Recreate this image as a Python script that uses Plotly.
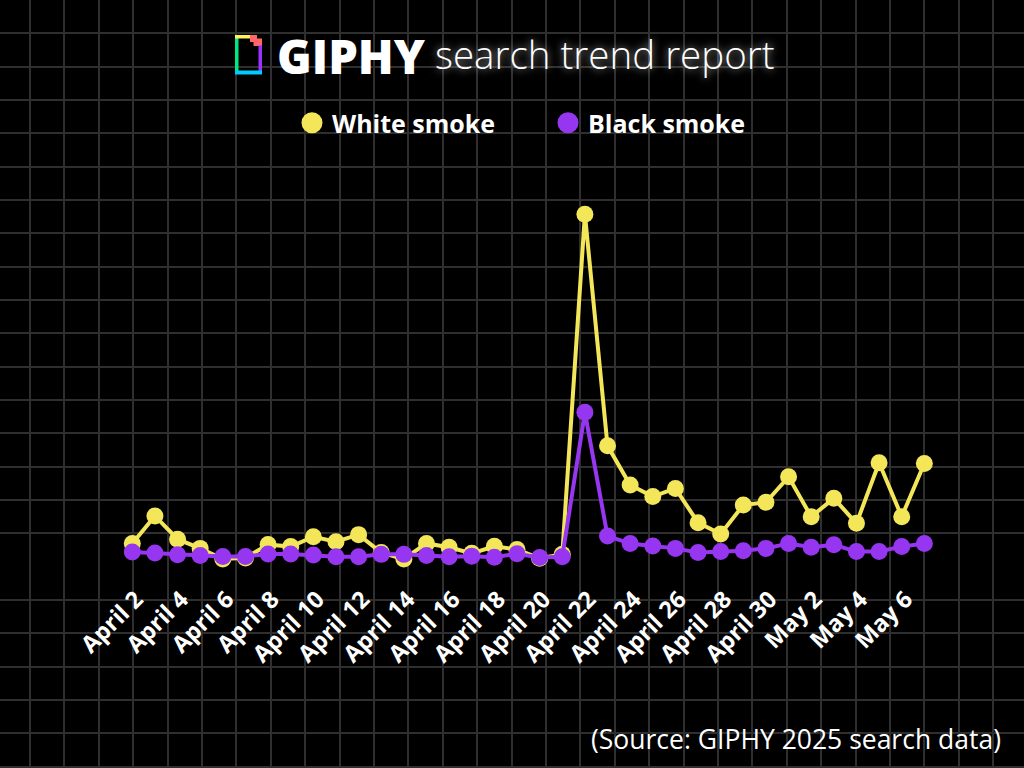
import pandas as pd
import plotly.graph_objects as go

# ---------------- data ----------------
dates = pd.date_range("2025-04-02", "2025-05-07", freq="D").strftime("%Y-%m-%d").tolist()
white_smoke = [6.6, 14.4, 7.8, 5.2, 2.2, 2.5, 6.3, 5.7, 8.5, 7.1, 9.1, 4.0, 2.2, 6.6, 5.5, 3.8, 5.8, 4.9,
               2.4, 3.5, 100, 34.3, 23.2, 19.9, 22.2, 12.5, 9.3, 17.5, 18.3, 25.5, 14.2, 19.4, 12.3, 29.5,
               14.2, 29.3]
black_smoke = [4.2, 3.9, 3.4, 3.2, 2.9, 2.9, 3.6, 3.6, 3.3, 2.8, 2.8, 3.5, 3.5, 3.2, 2.8, 3.0, 2.7, 3.7,
               2.6, 2.8, 43.8, 8.7, 6.6, 5.9, 5.2, 4.0, 4.3, 4.5, 5.2, 6.6, 5.5, 6.2, 4.3, 4.3, 5.7, 6.6]
tick_dates = dates[::2]
series_names = ["White smoke", "Black smoke"]
title_brand = "GIPHY"
title_rest = "search trend report"
source_text = "(Source: GIPHY 2025 search data)"

# ---------------- styling ----------------
W, H = 1024, 768
YELLOW = "#F3E659"
PURPLE = "#9636F0"
GRID = "#2f2f2f"
FONT = "Open Sans"

def px(x):
    return x / W

def py(y):
    return 1 - y / H

# axis scale (pixels)
X0_PX, PX_PER_DAY = 132.3, 22.63
Y0_PX, PX_PER_UNIT = 566.7, 3.524
t0 = pd.Timestamp(dates[0])
x_range = [t0 - pd.Timedelta(days=X0_PX / PX_PER_DAY), t0 + pd.Timedelta(days=(W - X0_PX) / PX_PER_DAY)]
y_range = [-(H - Y0_PX) / PX_PER_UNIT, Y0_PX / PX_PER_UNIT]
grid_dx_ms = 34.4 / PX_PER_DAY * 86400000
grid_x0 = t0 - pd.Timedelta(days=(X0_PX + 4.4) / PX_PER_DAY)

fig = go.Figure()
for name, vals, col in [(series_names[0], white_smoke, YELLOW), (series_names[1], black_smoke, PURPLE)]:
    fig.add_trace(go.Scatter(x=dates, y=vals, mode="lines+markers", name=name,
                             line=dict(color=col, width=4), marker=dict(color=col, size=17),
                             showlegend=False, cliponaxis=False))
for name, col in [(series_names[0], YELLOW), (series_names[1], PURPLE)]:
    fig.add_trace(go.Scatter(x=[None], y=[None], mode="markers", name=name,
                             marker=dict(color=col, size=22, line=dict(color=col, width=5)),
                             showlegend=True))

fig.update_layout(
    width=W, height=H,
    margin=dict(l=0, r=0, t=0, b=0),
    paper_bgcolor="#000000", plot_bgcolor="#000000",
    font=dict(family=FONT, color="white"),
    legend=dict(orientation="h", x=px(292), xanchor="left", y=py(123), yanchor="middle",
                font=dict(size=25, color="white", family=FONT, weight=700),
                entrywidth=211, entrywidthmode="pixels", bgcolor="rgba(0,0,0,0)"),
    xaxis=dict(type="date", range=x_range, domain=[0, 1], anchor="free", position=py(580),
               tickmode="array", tickvals=tick_dates, tickformat="%B %-d", tickangle=-45,
               tickfont=dict(size=23.5, color="white", family=FONT, weight=700),
               ticklabelshift=4,
               showgrid=False, zeroline=False, showline=False, ticks="",
               minor=dict(tickmode="linear", tick0=grid_x0.strftime("%Y-%m-%d %H:%M:%S"),
                          dtick=grid_dx_ms, showgrid=True, gridcolor=GRID, gridwidth=1.5, ticks="")),
    yaxis=dict(range=y_range, domain=[0, 1], showticklabels=False, showgrid=False, zeroline=False,
               showline=False, ticks="",
               minor=dict(tickmode="linear", tick0=0, dtick=33.33 / PX_PER_UNIT, showgrid=True,
                          gridcolor=GRID, gridwidth=1.5, ticks="")),
)

# logo (decorative)
logo = [
    (235, 35, 238.5, 74, "#00E87F"),
    (235, 35, 253, 38.5, "#FFF35C"),
    (250, 35, 257, 42, "#FF6666"),
    (253.5, 38.5, 262, 46, "#FF6666"),
    (258.5, 45.5, 262, 74, "#9933FF"),
    (235, 70.5, 262, 74.5, "#00CCFF"),
]
for x0, y0, x1, y1, c in logo:
    fig.add_shape(type="rect", xref="paper", yref="paper", x0=px(x0), x1=px(x1), y0=py(y1), y1=py(y0),
                  fillcolor=c, line=dict(width=0))

fig.add_annotation(text=title_brand, xref="paper", yref="paper", x=px(275), y=py(56), xanchor="left",
                   yanchor="middle", showarrow=False,
                   font=dict(size=47, color="white", family=FONT, weight=800))
fig.add_annotation(text=title_rest, xref="paper", yref="paper", x=px(433), y=py(54), xanchor="left",
                   yanchor="middle", showarrow=False,
                   font=dict(size=38.5, color="white", family=FONT, weight=300,
                             shadow="0px 0px 8px rgba(255,255,255,0.75)"))
fig.add_annotation(text=source_text, xref="paper", yref="paper", x=px(1003), y=py(739), xanchor="right",
                   yanchor="middle", showarrow=False,
                   font=dict(size=26.5, color="white", family=FONT, weight=400))

fig.write_html("out.html", config={"displayModeBar": False},
               post_script="document.body.style.margin='0';")
